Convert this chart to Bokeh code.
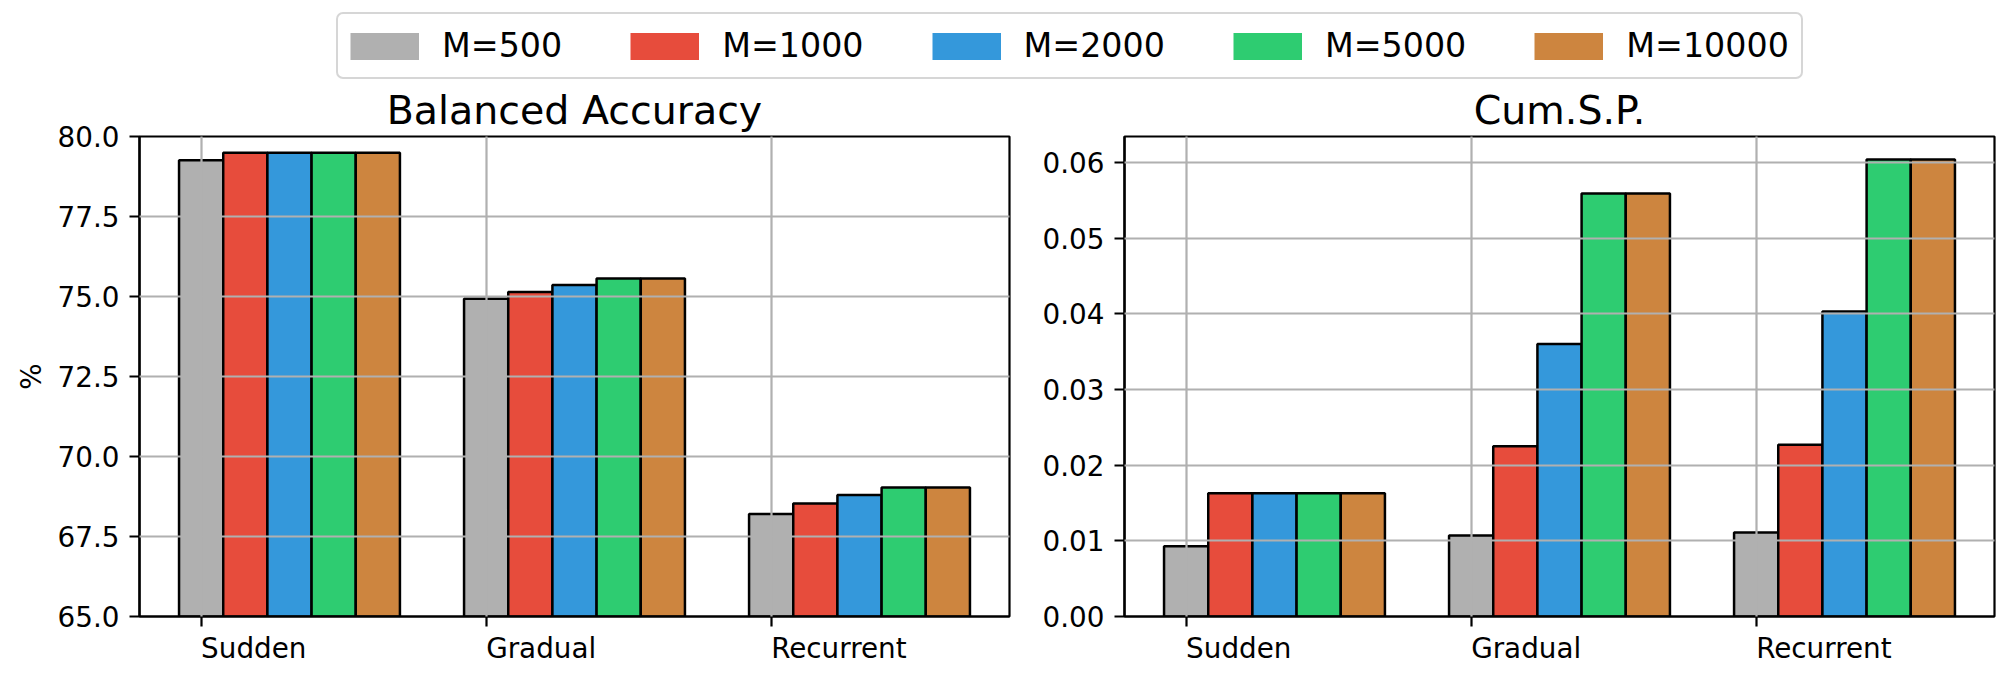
import numpy as np
from bokeh.plotting import figure
from bokeh.models import (Range1d, FixedTicker, PrintfTickFormatter, Legend,
                          LegendItem, ColumnDataSource)
from bokeh.layouts import column, row
from bokeh.embed import file_html
from bokeh.resources import INLINE

# ---------------- data ----------------
categories = ["Sudden", "Gradual", "Recurrent"]
series = ["M=500", "M=1000", "M=2000", "M=5000", "M=10000"]
colors = ["#b0b0b0", "#e74c3c", "#3498db", "#2ecc71", "#cd853f"]

# Balanced Accuracy (%)
acc_m500 = [79.26, 74.93, 68.20]
acc_m1000 = [79.49, 75.14, 68.53]
acc_m2000 = [79.49, 75.36, 68.80]
acc_m5000 = [79.49, 75.56, 69.03]
acc_m10000 = [79.49, 75.56, 69.03]

# Cum.S.P.
csp_m500 = [0.0093, 0.0107, 0.0111]
csp_m1000 = [0.0163, 0.0225, 0.0227]
csp_m2000 = [0.0163, 0.0360, 0.0403]
csp_m5000 = [0.0163, 0.0559, 0.0604]
csp_m10000 = [0.0163, 0.0559, 0.0604]

acc_ticks = [65.0, 67.5, 70.0, 72.5, 75.0, 77.5, 80.0]
csp_ticks = [0.00, 0.01, 0.02, 0.03, 0.04, 0.05, 0.06]

acc_values = [acc_m500, acc_m1000, acc_m2000, acc_m5000, acc_m10000]
csp_values = [csp_m500, csp_m1000, csp_m2000, csp_m5000, csp_m10000]

BAR_W = 0.155
FONT = "DejaVu Sans"


def make_panel(title, values, yticks, ylim, fmt, width, mbl, mbr, ylabel=None):
    p = figure(width=width, height=604,
               x_range=Range1d(-0.21625, 2.83625), y_range=Range1d(*ylim),
               output_backend="svg", toolbar_location=None,
               min_border_left=mbl, min_border_right=mbr,
               min_border_top=55, min_border_bottom=67,
               background_fill_color="white", border_fill_color="white")
    cat_idx = np.arange(len(categories))
    for j, (name, vals) in enumerate(zip(series, values)):
        src = ColumnDataSource(dict(x=cat_idx + j * BAR_W, top=vals))
        p.vbar(x="x", top="top", width=BAR_W, source=src,
               fill_color=colors[j], line_color="black", line_width=2.5)

    p.title.text = title
    p.title.align = "center"
    p.title.text_font = FONT
    p.title.text_font_size = "39.5px"
    p.title.text_font_style = "normal"
    p.title.text_color = "black"
    p.title.standoff = 8

    p.xaxis.ticker = FixedTicker(ticks=list(cat_idx))
    p.xaxis.major_label_overrides = {int(i): c for i, c in zip(cat_idx, categories)}
    p.xaxis.major_label_orientation = -1e-6
    p.yaxis.ticker = FixedTicker(ticks=yticks)
    p.yaxis.formatter = PrintfTickFormatter(format=fmt)
    for ax in [p.xaxis, p.yaxis]:
        ax.major_label_text_font = FONT
        ax.major_label_text_font_size = "27.8px"
        ax.major_label_text_color = "black"
        ax.axis_line_color = "black"
        ax.axis_line_width = 2.2
        ax.major_tick_line_color = "black"
        ax.major_tick_line_width = 2.2
        ax.major_tick_out = 10
        ax.major_tick_in = 0
        ax.minor_tick_line_color = None
    p.xaxis.major_label_standoff = 22
    p.yaxis.major_label_standoff = 10
    if ylabel:
        p.yaxis.axis_label = ylabel
        p.yaxis.axis_label_text_font = FONT
        p.yaxis.axis_label_text_font_size = "27.8px"
        p.yaxis.axis_label_text_font_style = "normal"
        p.yaxis.axis_label_text_color = "black"
        p.yaxis.axis_label_standoff = 7

    p.xgrid.ticker = FixedTicker(ticks=list(cat_idx))
    p.ygrid.ticker = FixedTicker(ticks=yticks)
    p.grid.grid_line_color = "#b0b0b0"
    p.grid.grid_line_width = 2.2
    p.grid.level = "annotation"

    p.outline_line_color = "black"
    p.outline_line_width = 2.2
    return p


p1 = make_panel("Balanced Accuracy", acc_values, acc_ticks, (65, 80), "%.1f",
                1018, 139, 9, ylabel="%")
p2 = make_panel("Cum.S.P.", csp_values, csp_ticks, (0, 0.06344), "%.2f",
                996, 106, 20)

# legend strip
lf = figure(width=2014, height=80, x_range=Range1d(0, 1), y_range=Range1d(0, 1),
            output_backend="svg", toolbar_location=None,
            x_axis_type=None, y_axis_type=None, min_border=0,
            outline_line_color=None)
handles = [lf.line(x=np.array([np.nan]), y=np.array([np.nan]), line_width=27,
                   line_color=c) for c in colors]
legend = Legend(items=[LegendItem(label=s, renderers=[r]) for s, r in zip(series, handles)],
                location=(336, 1), orientation="horizontal", margin=0,
                padding=12, spacing=68, glyph_width=69, glyph_height=34,
                label_height=34, label_standoff=23,
                label_text_font=FONT, label_text_font_size="33.3px",
                label_text_color="black",
                border_line_color="#cccccc", border_line_width=2,
                border_line_alpha=0.8, border_radius=7,
                background_fill_color="white", background_fill_alpha=1.0)
lf.add_layout(legend, "center")

layout = column(lf, row(p1, p2))
open("out.html", "w").write(file_html(layout, INLINE))
